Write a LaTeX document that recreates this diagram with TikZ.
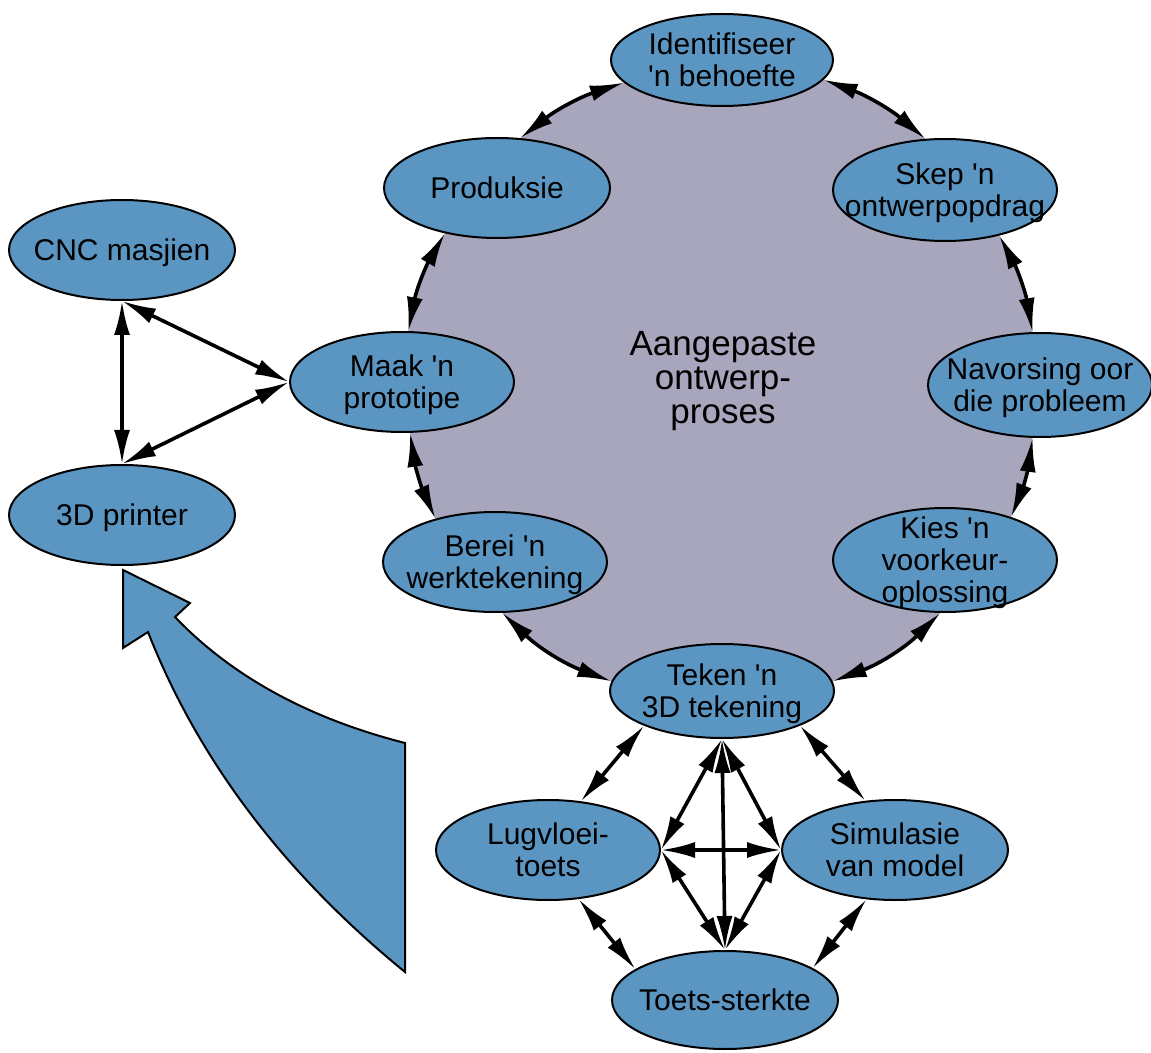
\documentclass[tikz,border=0pt]{standalone}
\usepackage{fontspec}
\newfontfamily\lab{Liberation Sans}
\usetikzlibrary{shapes.geometric,arrows.meta}
\definecolor{nodeblue}{HTML}{5B96C3}
\definecolor{cyclegrey}{HTML}{A7A6BD}
\pgfdeclarelayer{bg}
\pgfsetlayers{bg,main}
% text set in a zero-size box, so that the ellipse keeps its given size
\newcommand\ztext[1]{\smash{\makebox[0pt]{\raisebox{-5.8pt}{\begin{tabular}[c]{@{}c@{}}#1\end{tabular}}}}}
\tikzset{
  proc/.style={ellipse, draw=black, line width=1pt, fill=nodeblue,
    minimum width=112pt, minimum height=50pt, inner sep=0pt,
    font=\lab\fontsize{15}{16}\selectfont},
  link/.style={line width=1.8pt,
    {Latex[length=17pt,width=8pt]}-{Latex[length=17pt,width=8pt]}},
}
\begin{document}
\begin{tikzpicture}[x=0.5pt,y=-0.5pt]
\useasboundingbox (0,0) rectangle (1151,1053);

% design cycle
\node[proc, minimum height=46pt, minimum width=111pt] (ident) at (722,60) {\ztext{Identifiseer\\'n behoefte}};
\node[proc, minimum height=51pt] (skep) at (945,190) {\ztext{Skep 'n\\ontwerpopdrag}};
\node[proc, minimum height=52pt] (navo) at (1040,385) {\ztext{Navorsing oor\\die probleem}};
\node[proc, minimum height=52pt] (kies) at (945,560) {\ztext{Kies 'n\\voorkeur-\\oplossing}};
\node[proc, minimum height=47pt] (teken) at (722,691) {\ztext{Teken 'n\\3D tekening}};
\node[proc] (berei) at (495,562) {\ztext{Berei 'n\\werktekening}};
\node[proc] (maak) at (402,382) {\ztext{Maak 'n\\prototipe}};
\node[proc, minimum width=113pt] (prod) at (497,188) {\ztext{Produksie}};
\node[align=center, font=\lab\fontsize{17.5}{17}\selectfont] (title) at (723,381) {Aangepaste\\ontwerp-\\proses};

% manufacturing options
\node[proc, minimum width=113pt] (cnc) at (122,250) {\ztext{CNC masjien}};
\node[proc, minimum width=113pt] (printer) at (122,515) {\ztext{3D printer}};

% testing
\node[proc] (lug) at (548,850) {\ztext{Lugvloei-\\toets}};
\node[proc, minimum width=113pt] (sim) at (895,850) {\ztext{Simulasie\\van model}};
\node[proc, minimum width=113pt, minimum height=49pt] (toets) at (725,1000) {\ztext{Toets-sterkte}};

% block arrow pointing at the 3D printer
\draw[fill=nodeblue, line width=1pt, line join=miter]
  (123,570) -- (190,603) -- (175,617)
  .. controls (231.7,676.3) and (308.3,718.3) .. (405,743)
  -- (405,972)
  .. controls (284,873.3) and (198.3,760) .. (148,632)
  -- (123,648) -- cycle;

\begin{pgfonlayer}{bg}
  \fill[cyclegrey]
    (ident.-11.5) to[bend left=10] (skep.111) -- (skep.-40)
    to[bend left=9] (navo.98) -- (navo.262)
    to[bend left=7] (kies.33.5) -- (kies.265)
    to[bend left=12] (teken.5) -- (teken.175)
    to[bend left=11.6] (berei.278) -- (berei.144)
    to[bend left=7.6] (maak.279) -- (maak.83)
    to[bend left=9.4] (prod.221) -- (prod.65)
    to[bend left=10] (ident.193) -- cycle;
  \draw[link] (ident.-11.5) to[bend left=10] (skep.111);
  \draw[link] (skep.-40) to[bend left=9] (navo.98);
  \draw[link] (navo.262) to[bend left=7] (kies.33.5);
  \draw[link] (kies.265) to[bend left=12] (teken.5);
  \draw[link] (teken.175) to[bend left=11.6] (berei.278);
  \draw[link] (berei.144) to[bend left=7.6] (maak.279);
  \draw[link] (maak.83) to[bend left=9.4] (prod.221);
  \draw[link] (prod.65) to[bend left=10] (ident.193);

  \draw[link] (cnc.south) -- (printer.north);
  \draw[link] (cnc.south) -- (maak.west);
  \draw[link] (printer.north) -- (maak.west);

  \draw[link] (teken.204) -- (lug.56);
  \draw[link] (teken.336) -- (sim.121);
  \draw[link] (teken.south) -- (lug.east);
  \draw[link] (teken.south) -- (sim.west);
  \draw[link] (teken.south) -- (toets.north);
  \draw[link] (lug.east) -- (sim.west);
  \draw[link] (lug.east) -- (toets.north);
  \draw[link] (sim.west) -- (toets.north);
  \draw[link] (lug.302) -- (toets.161);
  \draw[link] (sim.240) -- (toets.20);
\end{pgfonlayer}
\end{tikzpicture}
\end{document}
